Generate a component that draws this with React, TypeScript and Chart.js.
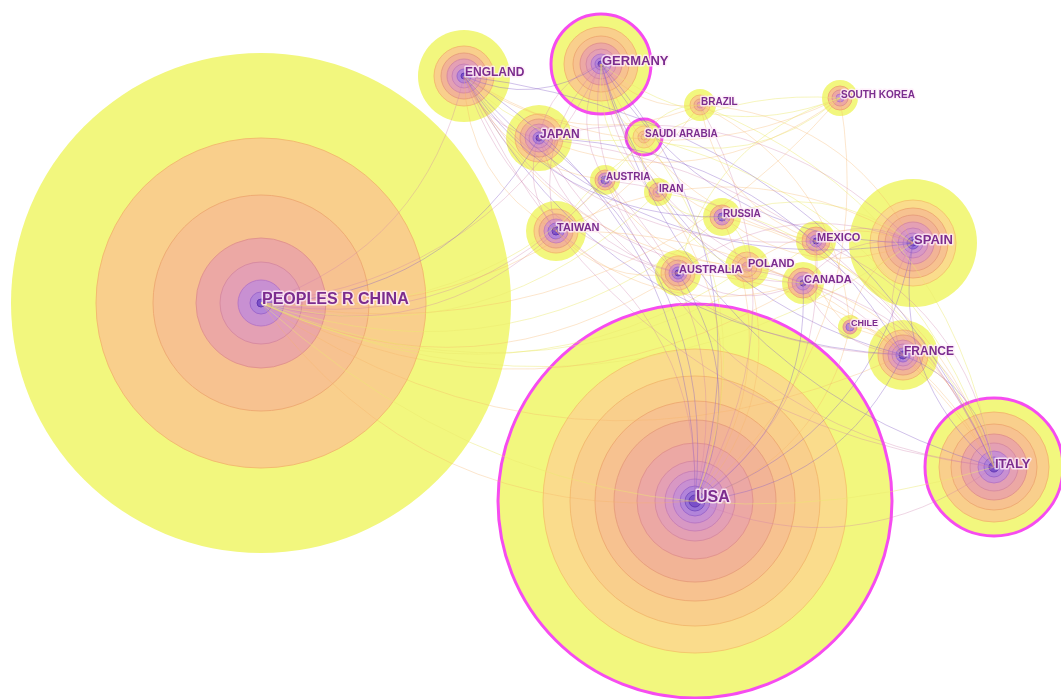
import { useEffect, useRef } from 'react';
import { Chart, registerables } from 'chart.js';

Chart.register(...registerables);

const W = 1061;
const H = 699;

// ---- data ----
const nodeNames = [
  'PEOPLES R CHINA', 'USA', 'ENGLAND', 'GERMANY', 'JAPAN', 'SAUDI ARABIA', 'BRAZIL',
  'SOUTH KOREA', 'AUSTRIA', 'IRAN', 'RUSSIA', 'TAIWAN', 'AUSTRALIA', 'POLAND',
  'MEXICO', 'CANADA', 'SPAIN', 'CHILE', 'FRANCE', 'ITALY',
];
const nodeX = [261, 695, 464, 601, 539, 644, 700, 840, 605, 658, 722, 556, 678, 747, 816, 803, 913, 850, 903, 994];
const nodeY = [303, 501, 76, 64, 138, 137, 105, 98, 180, 192, 217, 231, 273, 267, 241, 283, 243, 327, 355, 467];
const nodeRings = [
  [250, 165, 108, 65, 41, 23, 11, 4],
  [197, 152, 125, 100, 81, 58, 40, 30, 22, 15, 10, 6],
  [46, 30, 23, 17, 12, 7, 3],
  [50, 37, 28, 21, 15, 10, 6, 3],
  [33, 24, 19, 14, 10, 6, 3],
  [18, 11, 6, 3],
  [16, 10, 6, 3],
  [18, 12, 8, 4],
  [15, 10, 7, 4],
  [14, 9, 5, 2],
  [19, 12, 8, 4],
  [30, 22, 17, 12, 8, 4],
  [23, 17, 13, 9, 6, 3],
  [22, 15, 10, 5],
  [20, 14, 10, 6, 3],
  [21, 15, 11, 7, 3],
  [64, 43, 35, 28, 21, 15, 10, 6, 3],
  [12, 7, 4],
  [35, 25, 20, 15, 11, 7, 4],
  [69, 55, 43, 33, 24, 16, 10, 5],
];
// colour level (0 = newest/yellow, 11 = oldest/purple) of each node's innermost ring
const nodeOldest = [11, 11, 11, 11, 11, 4, 6, 8, 10, 8, 10, 11, 11, 5, 11, 11, 11, 9, 11, 11];
const centralNodes = ['USA', 'GERMANY', 'ITALY', 'SAUDI ARABIA'];

const linkSource = [
  'PEOPLES R CHINA', 'PEOPLES R CHINA', 'PEOPLES R CHINA', 'PEOPLES R CHINA', 'PEOPLES R CHINA', 'PEOPLES R CHINA',
  'PEOPLES R CHINA', 'PEOPLES R CHINA', 'PEOPLES R CHINA', 'PEOPLES R CHINA', 'PEOPLES R CHINA', 'PEOPLES R CHINA',
  'PEOPLES R CHINA', 'PEOPLES R CHINA', 'PEOPLES R CHINA', 'PEOPLES R CHINA', 'PEOPLES R CHINA', 'PEOPLES R CHINA',
  'USA', 'USA', 'USA', 'USA', 'USA', 'USA', 'USA', 'USA', 'USA', 'USA', 'USA', 'USA', 'USA', 'USA', 'USA', 'USA', 'USA', 'USA',
  'ENGLAND', 'ENGLAND', 'ENGLAND', 'ENGLAND', 'ENGLAND', 'ENGLAND', 'ENGLAND', 'ENGLAND', 'ENGLAND', 'ENGLAND', 'ENGLAND', 'ENGLAND',
  'GERMANY', 'GERMANY', 'GERMANY', 'GERMANY', 'GERMANY', 'GERMANY', 'GERMANY', 'GERMANY', 'GERMANY', 'GERMANY', 'GERMANY', 'GERMANY',
  'SPAIN', 'SPAIN', 'SPAIN', 'SPAIN', 'SPAIN', 'SPAIN', 'SPAIN', 'SPAIN', 'SPAIN',
  'ITALY', 'ITALY', 'ITALY', 'ITALY', 'ITALY', 'ITALY', 'ITALY', 'ITALY', 'ITALY',
  'JAPAN', 'JAPAN', 'JAPAN', 'SAUDI ARABIA', 'SAUDI ARABIA', 'AUSTRALIA', 'CANADA', 'MEXICO', 'POLAND',
  'BRAZIL', 'IRAN', 'TAIWAN', 'AUSTRIA', 'FRANCE',
  'ITALY', 'ITALY', 'ITALY', 'ITALY', 'ITALY', 'FRANCE', 'FRANCE', 'SPAIN', 'SPAIN', 'GERMANY',
  'GERMANY', 'ENGLAND', 'ENGLAND', 'SOUTH KOREA', 'SOUTH KOREA', 'BRAZIL', 'RUSSIA', 'AUSTRIA',
  'IRAN', 'CHILE', 'TAIWAN', 'JAPAN', 'ENGLAND', 'GERMANY',
];
const linkTarget = [
  'USA', 'ENGLAND', 'GERMANY', 'JAPAN', 'TAIWAN', 'AUSTRALIA', 'SPAIN', 'ITALY', 'SAUDI ARABIA',
  'CANADA', 'FRANCE', 'SOUTH KOREA', 'AUSTRIA', 'RUSSIA', 'IRAN', 'BRAZIL', 'POLAND', 'MEXICO',
  'ENGLAND', 'GERMANY', 'JAPAN', 'TAIWAN', 'AUSTRALIA', 'CANADA', 'SPAIN', 'ITALY', 'FRANCE',
  'MEXICO', 'BRAZIL', 'SOUTH KOREA', 'SAUDI ARABIA', 'AUSTRIA', 'IRAN', 'RUSSIA', 'POLAND', 'CHILE',
  'GERMANY', 'JAPAN', 'SPAIN', 'ITALY', 'AUSTRALIA', 'FRANCE', 'CANADA', 'AUSTRIA', 'BRAZIL',
  'SAUDI ARABIA', 'SOUTH KOREA', 'TAIWAN',
  'SPAIN', 'ITALY', 'FRANCE', 'AUSTRIA', 'JAPAN', 'RUSSIA', 'BRAZIL', 'POLAND', 'CANADA',
  'AUSTRALIA', 'SOUTH KOREA', 'SAUDI ARABIA',
  'ITALY', 'FRANCE', 'MEXICO', 'CHILE', 'BRAZIL', 'POLAND', 'CANADA', 'AUSTRALIA', 'RUSSIA',
  'FRANCE', 'POLAND', 'CANADA', 'AUSTRALIA', 'RUSSIA', 'IRAN', 'SAUDI ARABIA', 'JAPAN', 'TAIWAN',
  'TAIWAN', 'AUSTRALIA', 'SOUTH KOREA', 'IRAN', 'SOUTH KOREA', 'CANADA', 'FRANCE', 'CHILE', 'RUSSIA',
  'MEXICO', 'RUSSIA', 'AUSTRALIA', 'POLAND', 'CHILE',
  'MEXICO', 'CHILE', 'BRAZIL', 'AUSTRIA', 'ENGLAND', 'AUSTRALIA', 'JAPAN', 'JAPAN', 'TAIWAN', 'TAIWAN',
  'MEXICO', 'MEXICO', 'POLAND', 'TAIWAN', 'AUSTRALIA', 'SAUDI ARABIA', 'SPAIN', 'ITALY',
  'CANADA', 'BRAZIL', 'CANADA', 'FRANCE', 'RUSSIA', 'IRAN',
];
// colour level of each link (0 = old/purple ... 3 = new/yellow)
const linkYear = [
  2, 1, 1, 0, 1, 2, 3, 3, 3, 2, 2, 2, 1, 3, 3, 2, 3, 3,
  0, 0, 0, 1, 0, 0, 0, 1, 0, 1, 1, 2, 3, 1, 2, 2, 2, 2,
  0, 1, 0, 1, 1, 0, 1, 2, 2, 3, 2, 2,
  0, 0, 0, 1, 1, 2, 2, 1, 1, 1, 3, 3,
  0, 1, 1, 2, 2, 2, 1, 1, 3,
  0, 2, 1, 2, 2, 3, 3, 1, 2,
  1, 1, 2, 3, 3, 1, 1, 2, 3,
  2, 3, 2, 2, 2,
  1, 2, 3, 1, 0, 1, 0, 1, 2, 1,
  2, 1, 2, 3, 3, 3, 2, 1,
  3, 2, 2, 1, 0, 3,
];

// ---- styles ----
const ringPalette = [
  '#f2f77e', '#fadc8c', '#f9cf8c', '#f7c290', '#f2b496', '#eca8a4',
  '#e4a0b4', '#d898c4', '#c890d2', '#b284da', '#9670d6', '#7a50c8',
];
const ringBorder = [
  '#eef06a', '#f5c86e', '#f3bb70', '#efac74', '#e8a07e', '#e2948e',
  '#d88ca2', '#ca82b6', '#b878c6', '#9e68cc', '#7e52c4', '#6236b4',
];
const linkColors = [
  'rgba(135, 95, 200, 0.38)',
  'rgba(205, 125, 170, 0.32)',
  'rgba(245, 178, 100, 0.32)',
  'rgba(235, 232, 110, 0.45)',
];

function buildDatasets() {
  const maxRings = Math.max(...nodeRings.map((r) => r.length));
  const datasets: any[] = [];
  for (let i = maxRings - 1; i >= 0; i--) {
    const data: any[] = [];
    const bg: string[] = [];
    const bc: string[] = [];
    const bw: number[] = [];
    nodeRings.forEach((rings, n) => {
      if (i >= rings.length) return;
      const t = rings.length === 1 ? 0 : i / (rings.length - 1);
      const lvl = Math.round(t * nodeOldest[n]);
      data.push({ x: nodeX[n], y: nodeY[n], r: rings[i] });
      bg.push(ringPalette[lvl]);
      const central = i === 0 && centralNodes.includes(nodeNames[n]);
      bc.push(central ? '#f64cf0' : ringBorder[lvl]);
      bw.push(central ? 3 : i === 0 ? 0 : 1);
    });
    datasets.push({
      label: 'ring ' + i,
      data,
      backgroundColor: bg,
      borderColor: bc,
      borderWidth: bw,
      hoverBorderWidth: bw,
      clip: false,
    });
  }
  return datasets;
}

const networkPlugin = {
  id: 'network',
  afterDatasetsDraw(chart: any) {
    const ctx = chart.ctx as CanvasRenderingContext2D;
    const xs = chart.scales.x;
    const ys = chart.scales.y;
    const px = (n: number) => xs.getPixelForValue(nodeX[n]);
    const py = (n: number) => ys.getPixelForValue(nodeY[n]);
    ctx.save();
    // links
    ctx.lineWidth = 1;
    for (let k = 0; k < linkSource.length; k++) {
      const a = nodeNames.indexOf(linkSource[k]);
      const b = nodeNames.indexOf(linkTarget[k]);
      if (a < 0 || b < 0) continue;
      const x1 = px(a), y1 = py(a), x2 = px(b), y2 = py(b);
      const dx = x2 - x1, dy = y2 - y1;
      const len = Math.hypot(dx, dy);
      const mx = (x1 + x2) / 2, my = (y1 + y2) / 2;
      const nx = -dy / len, ny = dx / len;
      const bend = len * 0.28;
      ctx.strokeStyle = linkColors[linkYear[k]];
      ctx.beginPath();
      ctx.moveTo(x1, y1);
      ctx.quadraticCurveTo(mx + nx * bend, my + ny * bend, x2, y2);
      ctx.stroke();
    }
    // labels
    ctx.textAlign = 'left';
    ctx.textBaseline = 'middle';
    ctx.lineJoin = 'round';
    nodeNames.forEach((name, n) => {
      const r = nodeRings[n][0];
      const fs = Math.round(4 + 2.2 * Math.log(r));
      ctx.font = `bold ${fs}px "Liberation Sans", Arial, sans-serif`;
      const x = px(n) + 1;
      const y = py(n) - 3;
      ctx.lineWidth = 3;
      ctx.strokeStyle = 'rgba(255, 238, 250, 0.8)';
      ctx.strokeText(name, x, y);
      ctx.fillStyle = '#7b2c8e';
      ctx.fillText(name, x, y);
    });
    ctx.restore();
  },
};

export default function App() {
  const ref = useRef<HTMLCanvasElement>(null);
  useEffect(() => {
    document.body.style.margin = '0';
    const chart = new Chart(ref.current as HTMLCanvasElement, {
      type: 'bubble',
      data: { datasets: buildDatasets() },
      options: {
        responsive: false,
        animation: false,
        events: [],
        layout: { padding: 0, autoPadding: false },
        plugins: { legend: { display: false }, tooltip: { enabled: false } },
        scales: {
          x: { type: 'linear', min: 0, max: W, display: false },
          y: { type: 'linear', min: 0, max: H, reverse: true, display: false },
        },
      },
      plugins: [networkPlugin],
    } as any);
    return () => chart.destroy();
  }, []);
  return (
    <div style={{ position: 'absolute', left: 0, top: 0, background: '#fff' }}>
      <canvas ref={ref} width={W} height={H} style={{ display: 'block' }} />
    </div>
  );
}
